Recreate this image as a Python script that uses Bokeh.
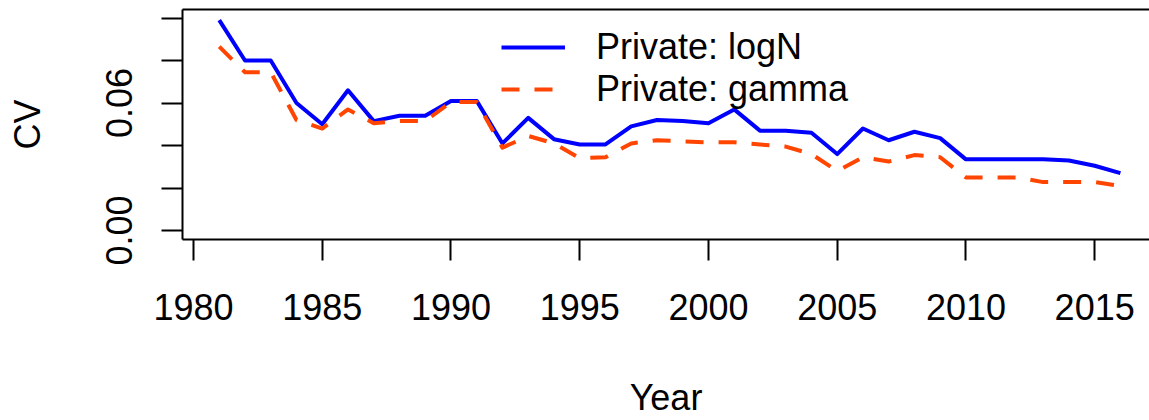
from bokeh.plotting import figure
from bokeh.models import (Range1d, FixedTicker, LinearAxis, Legend, LegendItem, ColumnDataSource)
from bokeh.embed import file_html
from bokeh.resources import INLINE

years = list(range(1981, 2017))
cv_logn = [0.099, 0.080, 0.080, 0.060, 0.050, 0.066, 0.0515, 0.054, 0.054, 0.061,
           0.061, 0.041, 0.053, 0.043, 0.0405, 0.0405, 0.049, 0.052, 0.0515, 0.0505,
           0.057, 0.047, 0.047, 0.046, 0.036, 0.048, 0.0425, 0.0465, 0.0435, 0.0335,
           0.0335, 0.0335, 0.0335, 0.033, 0.0305, 0.027]
cv_gamma = [0.0865, 0.0745, 0.0745, 0.052, 0.048, 0.057, 0.0505, 0.0515, 0.0515, 0.0605,
            0.0605, 0.039, 0.0445, 0.041, 0.034, 0.0345, 0.041, 0.0425, 0.042, 0.0415,
            0.0415, 0.0405, 0.0395, 0.036, 0.028, 0.0345, 0.0325, 0.0355, 0.0345, 0.025,
            0.025, 0.025, 0.0228, 0.0228, 0.0228, 0.021]
x_ticks = [1980, 1985, 1990, 1995, 2000, 2005, 2010, 2015]
y_ticks = [0.0, 0.02, 0.04, 0.06, 0.08, 0.10]
y_tick_labels = {0.0: "0.00", 0.02: "", 0.04: "", 0.06: "0.06", 0.08: "", 0.1: ""}
series_names = ["Private: logN", "Private: gamma"]

FONT = "Liberation Sans"
FS = "36px"

p = figure(width=1149, height=420, output_backend="svg", toolbar_location=None,
           x_range=Range1d(1979.573, 2017.13), y_range=Range1d(-0.0042, 0.104),
           min_border_left=182, min_border_right=0, min_border_top=9, min_border_bottom=181,
           x_axis_label="Year", y_axis_label="CV")
p.outline_line_color = None
p.grid.visible = False
p.background_fill_color = "white"
p.border_fill_color = "white"

src = ColumnDataSource(dict(year=years, logn=cv_logn, gamma=cv_gamma))
r1 = p.line("year", "logn", source=src, line_color="#0000FF", line_width=4, line_join="round")
r2 = p.line("year", "gamma", source=src, line_color="#FF4500", line_width=4,
            line_dash="18 15", line_join="round")

for ax in (p.xaxis[0], p.yaxis[0]):
    ax.axis_line_color = "black"
    ax.axis_line_width = 2
    ax.major_tick_line_color = "black"
    ax.major_tick_line_width = 2
    ax.major_tick_out = 21
    ax.major_tick_in = 0
    ax.minor_tick_line_color = None
    ax.major_label_text_font = FONT
    ax.major_label_text_font_size = FS
    ax.major_label_text_color = "black"
    ax.axis_label_text_font = FONT
    ax.axis_label_text_font_size = FS
    ax.axis_label_text_font_style = "normal"
    ax.axis_label_text_color = "black"

p.xaxis[0].ticker = FixedTicker(ticks=x_ticks)
p.xaxis[0].major_label_standoff = 33
p.xaxis[0].axis_label_standoff = 54

p.yaxis[0].ticker = FixedTicker(ticks=y_ticks)
p.yaxis[0].major_label_overrides = y_tick_labels
p.yaxis[0].major_label_orientation = "vertical"
p.yaxis[0].major_label_standoff = 29
p.yaxis[0].axis_label_standoff = 56

top_axis = LinearAxis(ticker=FixedTicker(ticks=[]), major_label_text_font_size="0px",
                      axis_line_color="black", axis_line_width=2,
                      major_tick_line_color=None, minor_tick_line_color=None)
p.add_layout(top_axis, "above")

legend = Legend(items=[LegendItem(label=series_names[0], renderers=[r1]),
                       LegendItem(label=series_names[1], renderers=[r2])],
                location=(319, 129), border_line_color=None, background_fill_alpha=0,
                label_text_font=FONT, label_text_font_size=FS, label_text_color="black",
                glyph_width=64, label_standoff=31, padding=0, margin=0, spacing=-9)
p.add_layout(legend, "center")

open("out.html", "w").write(file_html(p, INLINE))
